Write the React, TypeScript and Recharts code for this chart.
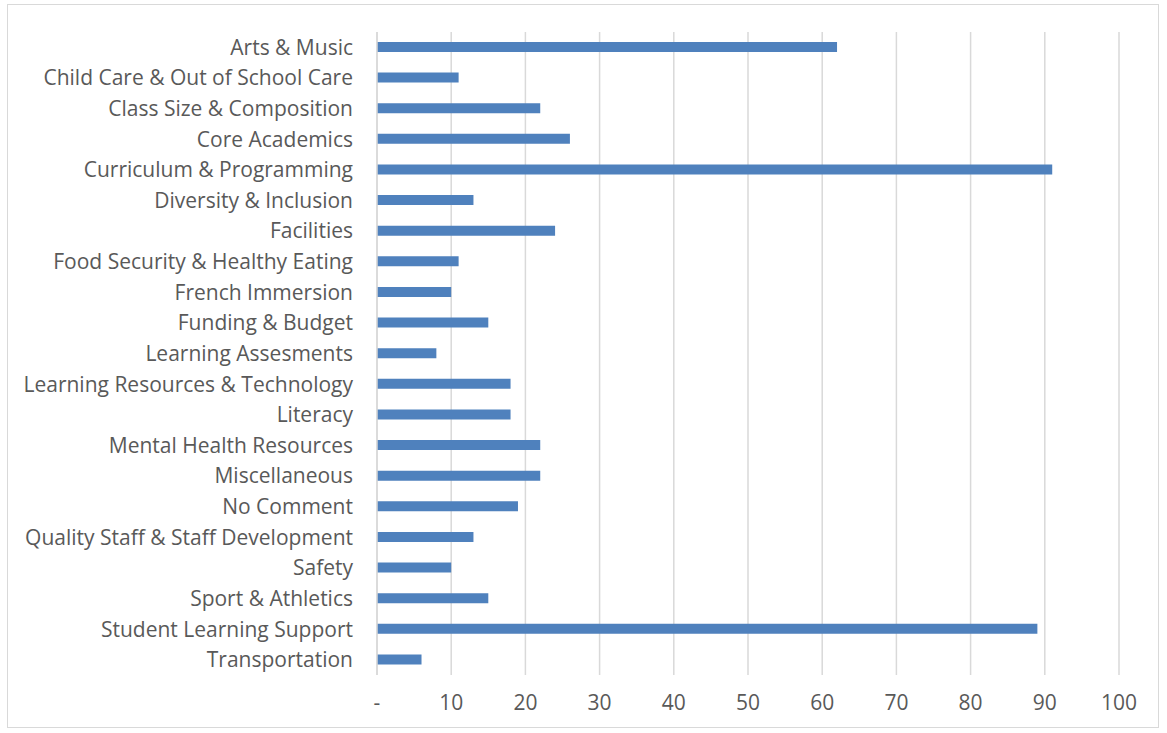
import React from 'react';
import { BarChart, Bar, XAxis, YAxis, CartesianGrid } from 'recharts';

const categories = [
    'Arts & Music',
    'Child Care & Out of School Care',
    'Class Size & Composition',
    'Core Academics',
    'Curriculum & Programming',
    'Diversity & Inclusion',
    'Facilities',
    'Food Security & Healthy Eating',
    'French Immersion',
    'Funding & Budget',
    'Learning Assesments',
    'Learning Resources & Technology',
    'Literacy',
    'Mental Health Resources',
    'Miscellaneous',
    'No Comment',
    'Quality Staff & Staff Development',
    'Safety',
    'Sport & Athletics',
    'Student Learning Support',
    'Transportation',
];

const counts = [62, 11, 22, 26, 91, 13, 24, 11, 10, 15, 8, 18, 18, 22, 22, 19, 13, 10, 15, 89, 6];

const xTicks = [0, 10, 20, 30, 40, 50, 60, 70, 80, 90, 100];

const chartData = categories.map((name, i) => ({ name, value: counts[i] }));

const tickStyle = { fill: '#595959', fontSize: 21, fontFamily: '"Open Sans", sans-serif' };

const App: React.FC = () => {
    return (
        <div style={{ position: 'absolute', left: 0, top: 0, width: 1167, height: 733, background: '#fff' }}>
            <div
                style={{
                    position: 'absolute',
                    left: 7,
                    top: 4,
                    width: 1152,
                    height: 724,
                    border: '1px solid #D9D9D9',
                    boxSizing: 'border-box',
                }}
            />
            <div style={{ position: 'absolute', left: 0, top: 0 }}>
                <BarChart
                    width={1167}
                    height={733}
                    data={chartData}
                    layout="vertical"
                    margin={{ top: 32, right: 48, left: 0, bottom: 0 }}
                >
                    <CartesianGrid horizontal={false} stroke="#D9D9D9" strokeWidth={1.5} />
                    <XAxis
                        type="number"
                        domain={[0, 100]}
                        ticks={xTicks}
                        interval={0}
                        tickFormatter={(v: number) => (v === 0 ? '-' : String(v))}
                        axisLine={false}
                        tickLine={false}
                        tickSize={0}
                        tickMargin={20}
                        height={58}
                        tick={tickStyle}
                    />
                    <YAxis
                        type="category"
                        dataKey="name"
                        width={377}
                        interval={0}
                        axisLine={{ stroke: '#D9D9D9', strokeWidth: 1.5 }}
                        tickLine={false}
                        tickSize={0}
                        tickMargin={24}
                        tick={tickStyle}
                    />
                    <Bar dataKey="value" fill="#4F81BD" barSize={10} isAnimationActive={false} />
                </BarChart>
            </div>
        </div>
    );
};

export default App;
